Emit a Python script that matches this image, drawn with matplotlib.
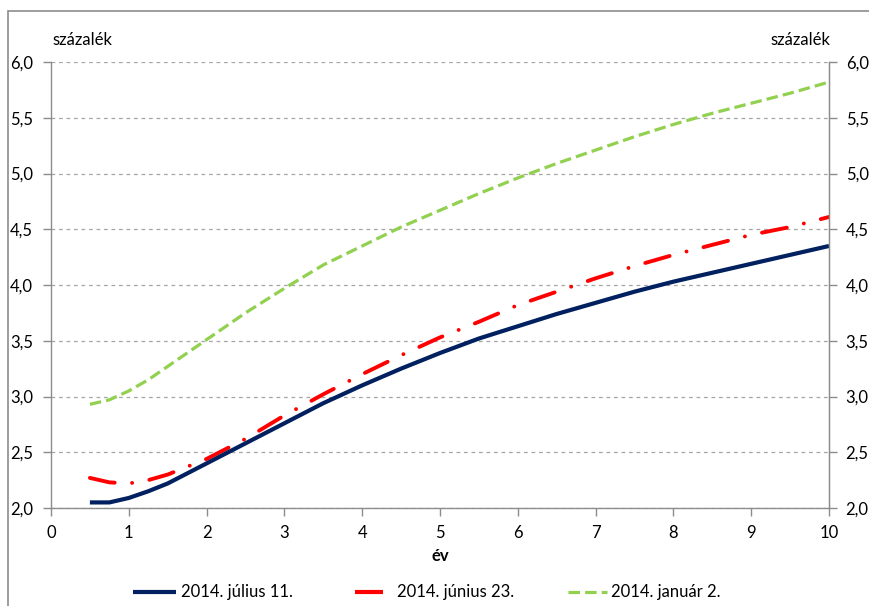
import numpy as np
import matplotlib.pyplot as plt
from matplotlib.lines import Line2D
from matplotlib.patches import Rectangle
from matplotlib.ticker import FuncFormatter

plt.rcParams['font.family'] = ['Lato', 'DejaVu Sans']

years = [0.5, 0.75, 1, 1.25, 1.5, 2, 2.5, 3, 3.5, 4, 4.5, 5, 5.5, 6, 6.5, 7, 7.5, 8, 8.5, 9, 9.5, 10]
jul11 = [2.05, 2.05, 2.09, 2.15, 2.22, 2.40, 2.58, 2.76, 2.94, 3.10, 3.25, 3.39, 3.52, 3.63, 3.74,
         3.84, 3.94, 4.03, 4.11, 4.19, 4.27, 4.35]
jun23 = [2.27, 2.23, 2.22, 2.25, 2.30, 2.44, 2.62, 2.83, 3.02, 3.20, 3.37, 3.53, 3.67, 3.82, 3.94,
         4.06, 4.17, 4.27, 4.36, 4.45, 4.52, 4.61]
jan02 = [2.93, 2.97, 3.05, 3.15, 3.27, 3.51, 3.75, 3.97, 4.18, 4.35, 4.52, 4.67, 4.82, 4.96, 5.09,
         5.21, 5.33, 5.44, 5.54, 5.63, 5.72, 5.82]
labels = ["2014. július 11.", "2014. június 23.", "2014. január 2."]

navy = "#002060"
red = "#FF0000"
green = "#92D050"
gray = "#8C8C8C"
fs = 12

fig = plt.figure(figsize=(8.69, 6.06), dpi=100)
ax = fig.add_axes([51 / 869, 1 - 508 / 606, (829 - 51) / 869, (508 - 62) / 606])

# outer chart frame (partly cut off)
fig.patches.append(Rectangle((8 / 869, -0.1), 1.2, 1 - 11 / 606 + 0.1, transform=fig.transFigure,
                             fill=False, edgecolor="#8C8C8C", lw=1.2))

ax.plot(years, jan02, color=green, lw=2.3, linestyle=(0, (3.6, 1.6)))
ax.plot(years, jun23, color=red, lw=2.8, linestyle=(0, (6.5, 4.5, 0.01, 4.5)),
        dash_capstyle="round")
ax.plot(years, jul11, color=navy, lw=3, solid_capstyle="butt")

ax.set_xlim(0, 10)
ax.set_ylim(2.0, 6.0)
ax.set_xticks(range(0, 11))
ax.set_yticks(np.arange(2.0, 6.01, 0.5))
fmt = FuncFormatter(lambda v, p: f"{v:.1f}".replace(".", ","))
ax.yaxis.set_major_formatter(fmt)
ax.grid(axis="y", color="#A6A6A6", linestyle=(0, (3, 3)), lw=0.9)
ax.set_axisbelow(True)

for s in ["left", "right", "bottom"]:
    ax.spines[s].set_color(gray)
    ax.spines[s].set_linewidth(1)
ax.spines["top"].set_visible(False)

ax.tick_params(axis="both", colors=gray, labelcolor="black", labelsize=fs, length=6, width=1)
ax.tick_params(axis="y", pad=7)
ax.tick_params(axis="x", pad=6)

ax2 = ax.twinx()
ax2.set_ylim(ax.get_ylim())
ax2.set_yticks(np.arange(2.0, 6.01, 0.5))
ax2.yaxis.set_major_formatter(fmt)
ax2.tick_params(axis="y", colors=gray, labelcolor="black", labelsize=fs, length=6, width=1, pad=6)
for s in ["top", "left", "bottom"]:
    ax2.spines[s].set_visible(False)
ax2.spines["right"].set_color(gray)

ax.set_xlabel("év", fontsize=fs, fontweight="bold", labelpad=5)

fig.text(52 / 869, 1 - 40 / 606, "százalék", fontsize=fs, va="center", ha="left")
fig.text(830 / 869, 1 - 40 / 606, "százalék", fontsize=fs, va="center", ha="right")

# legend
ly = 1 - 592 / 606
entries = [
    (133, 176, 181, navy, "-", 3),
    (355, 383, 397, red, "-", 3),
    (568, 607, 611, green, (0, (3.6, 1.6)), 2.3),
]
for (x0, x1, xt, c, ls, lw), lab in zip(entries, labels):
    fig.add_artist(Line2D([x0 / 869, x1 / 869], [ly, ly], transform=fig.transFigure,
                          color=c, linestyle=ls, lw=lw, solid_capstyle="butt"))
    fig.text(xt / 869, ly, lab, fontsize=fs, va="center", ha="left")

fig.savefig("out.png", dpi=100)
